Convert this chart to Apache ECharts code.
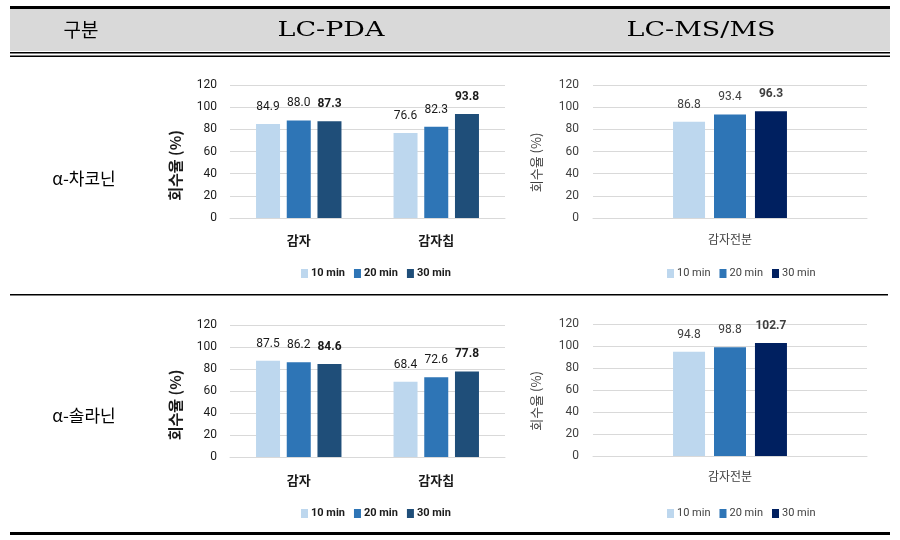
<!DOCTYPE html>
<html>
<head>
<meta charset="utf-8">
<script src="https://cdn.jsdelivr.net/npm/echarts@6/dist/echarts.min.js"></script>
<style>
html,body{margin:0;padding:0;background:#fff;}
#chart{width:900px;height:540px;}
</style>
</head>
<body>
<div id="chart"></div>
<script>
// ---- data ----
const headerLabels = ['구분', 'LC-PDA', 'LC-MS/MS'];
const rowLabels = ['α-차코닌', 'α-솔라닌'];
const seriesNames = ['10 min', '20 min', '30 min'];
const yTicks = [0, 20, 40, 60, 80, 100, 120];
const yAxisTitle = '회수율 (%)';
const categoriesPDA = ['감자', '감자칩'];
const categoriesMS = ['감자전분'];

const chaconinePDA10 = [84.9, 76.6];
const chaconinePDA20 = [88.0, 82.3];
const chaconinePDA30 = [87.3, 93.8];
const chaconineMS10 = [86.8];
const chaconineMS20 = [93.4];
const chaconineMS30 = [96.3];

const solaninePDA10 = [87.5, 68.4];
const solaninePDA20 = [86.2, 72.6];
const solaninePDA30 = [84.6, 77.8];
const solanineMS10 = [94.8];
const solanineMS20 = [98.8];
const solanineMS30 = [102.7];

// ---- styles ----
const colorsPDA = ['#BDD7EE', '#2E75B6', '#1F4E79'];
const colorsMS = ['#BDD7EE', '#2E75B6', '#002060'];
const FONT = 'Roboto, "Noto Sans CJK KR", sans-serif';
const KFONT = '"Noto Sans CJK KR", sans-serif';
const SERIF = '"DejaVu Serif", "Liberation Serif", serif';

const panels = [
  {grid:{left:230, top:85, width:275, height:133}, cats:categoriesPDA, data:[chaconinePDA10, chaconinePDA20, chaconinePDA30], colors:colorsPDA, ms:false, legendTop:263, legendLeft:296, xMargin:16},
  {grid:{left:593, top:85, width:274, height:133}, cats:categoriesMS, data:[chaconineMS10, chaconineMS20, chaconineMS30], colors:colorsMS, ms:true, legendTop:263, legendLeft:662, xMargin:15},
  {grid:{left:230, top:325, width:275, height:132}, cats:categoriesPDA, data:[solaninePDA10, solaninePDA20, solaninePDA30], colors:colorsPDA, ms:false, legendTop:503, legendLeft:296, xMargin:17},
  {grid:{left:593, top:324, width:274, height:132}, cats:categoriesMS, data:[solanineMS10, solanineMS20, solanineMS30], colors:colorsMS, ms:true, legendTop:503, legendLeft:662, xMargin:14}
];

const grids = [], xAxes = [], yAxes = [], series = [], legends = [];
panels.forEach((p, i) => {
  grids.push(Object.assign({}, p.grid));
  const txt = p.ms ? '#404040' : '#1a1a1a';
  xAxes.push({
    type:'category', gridIndex:i, data:p.cats,
    axisLine:{show:true, lineStyle:{color:'#D9D9D9', width:1}},
    axisTick:{show:false},
    axisLabel:{margin:p.xMargin, color:txt, fontFamily:KFONT, fontSize:p.ms?12:13, fontWeight:p.ms?'normal':'bold'}
  });
  yAxes.push({
    type:'value', gridIndex:i, min:yTicks[0], max:yTicks[yTicks.length-1], interval:yTicks[1]-yTicks[0],
    name:yAxisTitle, nameLocation:'middle', nameGap:p.ms?50:47, nameRotate:90,
    nameTextStyle:{fontFamily:KFONT, fontSize:p.ms?13:15, fontWeight:p.ms?'normal':'bold', color:txt,
      padding:p.ms?[0,22,0,0]:[0,28,0,0]},
    axisLine:{show:false}, axisTick:{show:false},
    axisLabel:{margin:p.ms?14:13, color:txt, fontFamily:FONT, fontSize:12},
    splitLine:{lineStyle:{color:'#D9D9D9', width:1}}
  });
  seriesNames.forEach((nm, k) => {
    series.push({
      name:nm, type:'bar', xAxisIndex:i, yAxisIndex:i, data:p.data[k],
      barWidth:p.ms?32:24, barGap:'28%',
      itemStyle:{color:p.colors[k]},
      label:{show:true, position:'top', distance:11, fontFamily:FONT, fontSize:12,
        color:txt, fontWeight:k===2?'bold':'normal',
        formatter:(d)=>Number(d.value).toFixed(1)},
      emphasis:{disabled:true}
    });
  });
  legends.push({
    left:p.legendLeft, top:p.legendTop, itemWidth:7, itemHeight:9, itemGap:9,
    icon:'rect', selectedMode:false,
    textStyle:{fontFamily:FONT, fontSize:11, color:txt, fontWeight:p.ms?'normal':'bold', padding:[0,0,0,-2]},
    data:seriesNames.map((nm,k)=>({name:nm, itemStyle:{color:p.colors[k]}}))
  });
});

// table decorations
const graphics = [
  {type:'rect', shape:{x:10, y:9, width:880, height:42}, style:{fill:'#D9D9D9'}, z:-10},
  {type:'rect', shape:{x:10, y:6, width:880, height:3}, style:{fill:'#000'}},
  {type:'rect', shape:{x:10, y:52, width:880, height:1.5}, style:{fill:'#000'}},
  {type:'rect', shape:{x:10, y:55.5, width:880, height:1.5}, style:{fill:'#000'}},
  {type:'rect', shape:{x:10, y:294, width:878, height:1.5}, style:{fill:'#000'}},
  {type:'rect', shape:{x:10, y:532, width:880, height:3}, style:{fill:'#000'}},
  {type:'text', x:81, y:30, style:{text:headerLabels[0], fontFamily:KFONT, fontSize:19, fill:'#000', align:'center', verticalAlign:'middle'}},
  {type:'text', x:331, y:31, scaleX:1.35, style:{text:headerLabels[1], fontFamily:SERIF, fontSize:20, fill:'#000', align:'center', verticalAlign:'middle'}},
  {type:'text', x:701, y:31, scaleX:1.35, style:{text:headerLabels[2], fontFamily:SERIF, fontSize:20, fill:'#000', align:'center', verticalAlign:'middle'}},
  {type:'text', x:84, y:179, style:{text:rowLabels[0], fontFamily:KFONT, fontSize:17, fill:'#000', align:'center', verticalAlign:'middle'}},
  {type:'text', x:84, y:416, style:{text:rowLabels[1], fontFamily:KFONT, fontSize:17, fill:'#000', align:'center', verticalAlign:'middle'}}
];

const chart = echarts.init(document.getElementById('chart'), null, {renderer:'canvas'});
chart.setOption({
  animation:false,
  backgroundColor:'#fff',
  grid:grids, xAxis:xAxes, yAxis:yAxes, series:series, legend:legends,
  graphic:graphics
});
</script>
</body>
</html>
